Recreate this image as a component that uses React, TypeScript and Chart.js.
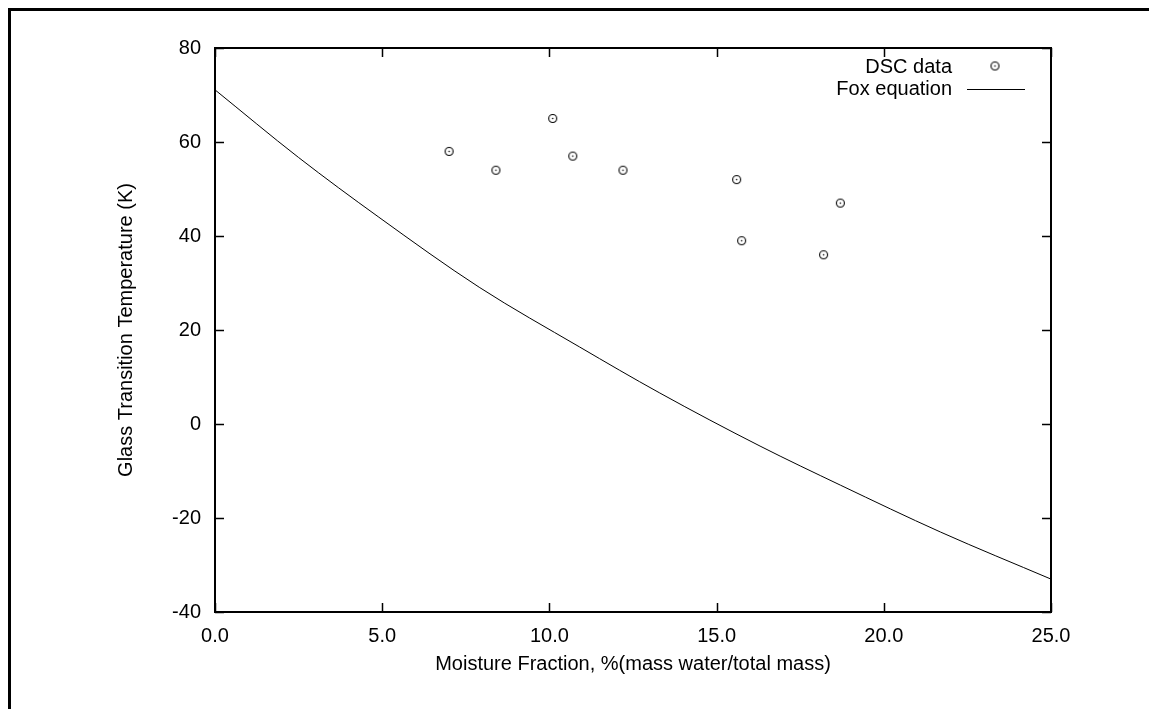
import React, { useEffect, useRef } from "react";
import { Chart, registerables } from "chart.js";

Chart.register(...registerables);

const dscX = [7.0, 8.4, 10.1, 10.7, 12.2, 15.6, 15.75, 18.2, 18.7];
const dscY = [58, 54, 65, 57, 54, 52, 39, 36, 47];

const foxX = [0, 2.5, 4.9, 7.9, 10.9, 13.3, 16.3, 18.7, 21.7, 25];
const foxY = [71.1, 56.7, 44.0, 29.1, 16.4, 6.6, -4.7, -13.0, -23.0, -33.0];

const xTicks = [0, 5, 10, 15, 20, 25];
const yTicks = [-40, -20, 0, 20, 40, 60, 80];

const legendLabels = ["DSC data", "Fox equation"];
const xTitle = "Moisture Fraction, %(mass water/total mass)";
const yTitle = "Glass Transition Temperature (K)";

const FONT = "'Liberation Sans', Arial, Helvetica, sans-serif";
const FS = 20;

function makePointImage(): HTMLCanvasElement {
  const c = document.createElement("canvas");
  c.width = 11;
  c.height = 11;
  const g = c.getContext("2d")!;
  g.strokeStyle = "#000";
  g.lineWidth = 1.1;
  g.beginPath();
  g.arc(5.5, 5.5, 4, 0, Math.PI * 2);
  g.stroke();
  g.fillStyle = "#000";
  g.beginPath();
  g.arc(5.5, 5.5, 0.8, 0, Math.PI * 2);
  g.fill();
  return c;
}

function makeFramePlugin(img: HTMLCanvasElement) {
  return {
    id: "gnuFrame",
    afterDraw(chart: any) {
      const { ctx, chartArea: a, scales } = chart;
      const xs = scales.x;
      const ys = scales.y;
      ctx.save();
      ctx.strokeStyle = "#000";
      ctx.lineWidth = 1.5;
      const tl = 9;
      ctx.beginPath();
      for (const v of xTicks) {
        const px = Math.round(xs.getPixelForValue(v)) + 0.5;
        ctx.moveTo(px, a.bottom);
        ctx.lineTo(px, a.bottom - tl);
        ctx.moveTo(px, a.top);
        ctx.lineTo(px, a.top + tl);
      }
      for (const v of yTicks) {
        const py = Math.round(ys.getPixelForValue(v)) + 0.5;
        ctx.moveTo(a.left, py);
        ctx.lineTo(a.left + tl, py);
        ctx.moveTo(a.right, py);
        ctx.lineTo(a.right - tl, py);
      }
      ctx.stroke();
      ctx.lineWidth = 2;
      ctx.strokeRect(a.left, a.top, a.right - a.left, a.bottom - a.top);

      ctx.fillStyle = "#000";
      ctx.font = `${FS}px ${FONT}`;
      ctx.textAlign = "right";
      ctx.textBaseline = "middle";
      const textRight = a.right - 99;
      const y1 = a.top + 19;
      const y2 = a.top + 41;
      ctx.fillText(legendLabels[0], textRight, y1);
      ctx.fillText(legendLabels[1], textRight, y2);
      ctx.drawImage(img, a.right - 56 - 5.5, y1 - 1 - 5.5);
      ctx.lineWidth = 1;
      ctx.beginPath();
      ctx.moveTo(a.right - 84, Math.round(y2) + 0.5);
      ctx.lineTo(a.right - 26, Math.round(y2) + 0.5);
      ctx.stroke();
      ctx.restore();
    },
  };
}

export default function App() {
  const ref = useRef<HTMLCanvasElement>(null);

  useEffect(() => {
    const canvas = ref.current!;
    const pointImg = makePointImage();
    const chart = new Chart(canvas, {
      type: "scatter",
      data: {
        datasets: [
          {
            label: legendLabels[0],
            data: dscX.map((x, i) => ({ x, y: dscY[i] })),
            pointStyle: pointImg as any,
            pointRadius: 5,
            showLine: false,
          },
          {
            label: legendLabels[1],
            data: foxX.map((x, i) => ({ x, y: foxY[i] })),
            showLine: true,
            borderColor: "#000",
            borderWidth: 1,
            pointRadius: 0,
            cubicInterpolationMode: "monotone",
            fill: false,
          } as any,
        ],
      },
      options: {
        responsive: false,
        animation: false,
        events: [],
        layout: { padding: { top: 37, right: 98, left: 0, bottom: 0 } },
        plugins: {
          legend: { display: false },
          tooltip: { enabled: false },
        },
        scales: {
          x: {
            type: "linear",
            min: 0,
            max: 25,
            afterFit: (s: any) => {
              s.height = 97;
            },
            afterBuildTicks: (s: any) => {
              s.ticks = xTicks.map((v) => ({ value: v }));
            },
            grid: { display: false, drawTicks: false },
            border: { display: false },
            ticks: {
              color: "#000",
              font: { family: FONT, size: FS },
              padding: 12,
              maxRotation: 0,
              callback: (v: any) => Number(v).toFixed(1),
            },
            title: {
              display: true,
              text: xTitle,
              color: "#000",
              font: { family: FONT, size: FS },
              padding: { top: 0, bottom: 33 },
            },
          },
          y: {
            type: "linear",
            min: -40,
            max: 80,
            afterFit: (s: any) => {
              s.width = 204;
            },
            afterBuildTicks: (s: any) => {
              s.ticks = yTicks.map((v) => ({ value: v }));
            },
            grid: { display: false, drawTicks: false },
            border: { display: false },
            ticks: {
              color: "#000",
              font: { family: FONT, size: FS },
              padding: 14,
              callback: (v: any) => String(v),
            },
            title: {
              display: true,
              text: yTitle,
              color: "#000",
              font: { family: FONT, size: FS },
              padding: { top: 103, bottom: 0 },
            },
          },
        },
      },
      plugins: [makeFramePlugin(pointImg)],
    });
    return () => chart.destroy();
  }, []);

  return (
    <div
      style={{
        position: "fixed",
        left: 8,
        top: 8,
        width: 1141,
        height: 701,
        borderLeft: "3px solid #000",
        borderTop: "3px solid #000",
        background: "#fff",
      }}
    >
      <canvas ref={ref} width={1138} height={698} style={{ display: "block" }} />
    </div>
  );
}
